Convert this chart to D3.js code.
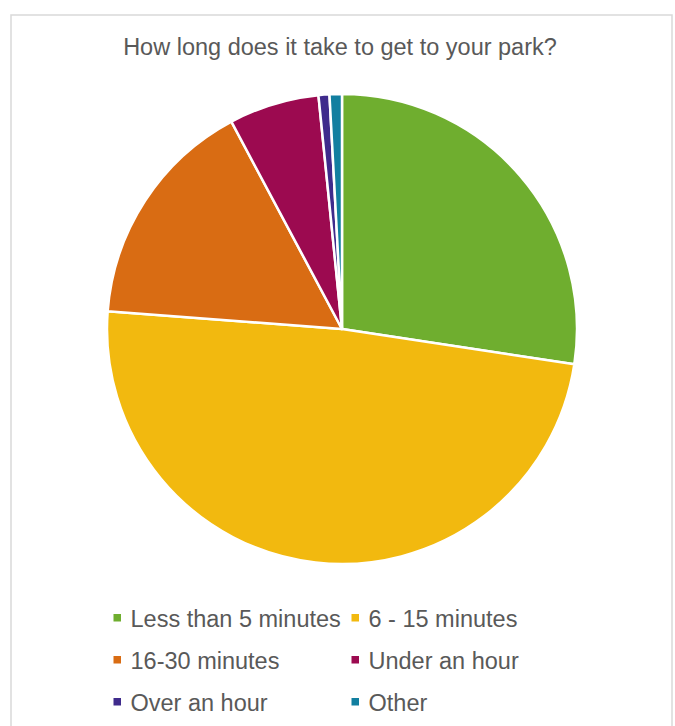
<!DOCTYPE html>
<html>
<head>
<meta charset="utf-8">
<script src="https://cdn.jsdelivr.net/npm/d3@7"></script>
<style>
  html, body { margin: 0; padding: 0; background: #fff; }
  svg { display: block; }
</style>
</head>
<body>
<script>
// Survey answers: share of respondents (%) by travel time to their park
const categories = ["Less than 5 minutes", "6 - 15 minutes", "16-30 minutes", "Under an hour", "Over an hour", "Other"];
const values = [27.4, 48.8, 16.0, 6.2, 0.75, 0.85];
const colors = ["#6FAE2F", "#F2B90F", "#D96C13", "#9C0A50", "#3F2B8C", "#127FA0"];

const W = 675, H = 726;
const svg = d3.select("body").append("svg").attr("width", W).attr("height", H);

// chart frame
svg.append("rect")
  .attr("x", 11).attr("y", 15).attr("width", 661).attr("height", 730)
  .attr("fill", "#fff").attr("stroke", "#D9D9D9").attr("stroke-width", 1.5);

svg.append("text")
  .attr("x", 340).attr("y", 55)
  .attr("text-anchor", "middle")
  .attr("font-family", "Liberation Sans, Arial, sans-serif")
  .attr("font-size", 23.5)
  .attr("fill", "#595959")
  .text("How long does it take to get to your park?");

const cx = 342, cy = 329, r = 235;
const pie = d3.pie().sort(null).value(d => d)(values);
const arc = d3.arc().innerRadius(0).outerRadius(r);

svg.append("g").attr("transform", `translate(${cx},${cy})`)
  .selectAll("path").data(pie).join("path")
  .attr("d", arc)
  .attr("fill", (d, i) => colors[i])
  .attr("stroke", "#fff")
  .attr("stroke-width", 2.5)
  .attr("stroke-linejoin", "round");

// legend, two columns
const colX = [113.5, 351.5], rowY = [626.5, 668.5, 710.5];
const leg = svg.append("g");
categories.forEach((c, i) => {
  const x = colX[i % 2], y = rowY[Math.floor(i / 2)];
  leg.append("rect").attr("x", x).attr("y", y - 12.5).attr("width", 7.5).attr("height", 7.5).attr("fill", colors[i]);
  leg.append("text")
    .attr("x", x + 17).attr("y", y)
    .attr("font-family", "Liberation Sans, Arial, sans-serif")
    .attr("font-size", 23.5)
    .attr("fill", "#595959")
    .text(c);
});
</script>
</body>
</html>
